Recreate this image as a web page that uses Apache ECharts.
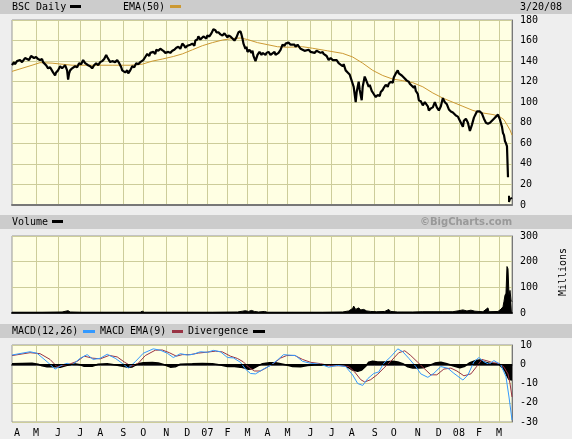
<!DOCTYPE html>
<html><head><meta charset="utf-8">
<script src="https://cdn.jsdelivr.net/npm/echarts@6/dist/echarts.min.js"></script>
<style>html,body{margin:0;padding:0;background:#EEEEEE;}#c{width:572px;height:439px;}</style>
</head><body><div id="c"></div><script>
// ---- axis / tick data ----
const N = 500; // trading days shown (27 Mar 2006 .. 20 Mar 2008)
const monthLabels = ['A','M','J','J','A','S','O','N','D','07','F','M','A','M','J','J','A','S','O','N','D','08','F','M'];
const monthIdx = [5,24,46,68,88,111,131,154,175,195,215,235,255,275,298,319,339,362,381,405,426,446,466,486];
const priceTicks = [0,20,40,60,80,100,120,140,160,180];
const volumeTicks = [0,100,200,300];
const macdTicks = [-30,-20,-10,0,10];

// ---- series data: [trading-day index, value] ----
const price = [[0,136],[2,139],[3,137],[5,140],[8,141],[10,139],[13,143],[15,142],[17,141],[19,145],[20,146],[22,143],[24,144],[26,142],[28,141],[30,142],[31,139],[34,136],[36,133],[38,134],[41,129],[43,126],[44,129],[46,131],[48,135],[50,133],[53,136],[55,131],[56,122],[57,128],[58,131],[60,133],[63,135],[65,134],[67,138],[69,137],[71,141],[73,138],[74,139],[76,136],[78,135],[80,133],[82,136],[84,138],[86,136],[88,139],[90,140],[92,142],[94,146],[95,144],[96,143],[98,139],[100,140],[103,139],[105,141],[107,138],[109,134],[110,131],[113,129],[115,131],[116,128],[118,131],[120,135],[122,134],[124,138],[126,137],[128,139],[131,141],[133,144],[135,147],[137,145],[138,148],[141,149],[143,147],[144,151],[146,150],[148,152],[151,150],[153,148],[154,147],[156,149],[158,148],[160,150],[162,151],[164,153],[166,154],[168,152],[170,157],[172,155],[173,153],[175,155],[176,154],[178,156],[180,157],[182,155],[183,160],[185,161],[186,164],[188,161],[189,162],[191,164],[192,163],[194,162],[195,165],[197,164],[199,167],[201,171],[203,170],[204,168],[206,168],[208,166],[210,165],[212,167],[213,166],[215,163],[216,165],[218,164],[220,162],[222,160],[224,163],[226,168],[228,169],[229,166],[230,162],[231,157],[233,152],[234,154],[235,149],[237,151],[239,148],[240,150],[241,145],[243,140],[245,146],[247,149],[249,146],[250,148],[253,146],[254,148],[256,149],[258,146],[259,147],[262,149],[263,146],[264,147],[266,148],[268,151],[270,156],[272,155],[273,157],[276,158],[278,156],[279,157],[282,156],[283,154],[285,156],[288,152],[290,151],[292,150],[293,149],[296,151],[298,149],[299,150],[302,148],[304,150],[305,149],[308,148],[310,149],[311,147],[314,145],[316,141],[318,143],[320,141],[321,142],[324,141],[326,138],[327,139],[330,135],[331,137],[333,131],[335,129],[337,127],[338,124],[340,118],[341,115],[343,100],[344,110],[346,120],[347,112],[349,102],[350,115],[352,125],[354,120],[356,115],[357,117],[359,111],[361,108],[363,105],[365,107],[367,106],[368,110],[370,112],[371,114],[373,117],[375,115],[376,118],[378,120],[380,119],[381,124],[383,128],[385,131],[386,128],[387,129],[389,126],[391,124],[392,125],[394,121],[396,120],[397,118],[398,117],[401,114],[402,116],[403,111],[405,108],[406,102],[408,101],[410,97],[412,100],[413,101],[415,96],[416,92],[418,94],[420,95],[422,100],[424,95],[426,92],[428,96],[430,104],[432,100],[434,98],[436,93],[438,91],[440,90],[441,89],[443,87],[445,86],[446,84],[448,80],[450,76],[451,82],[453,84],[455,80],[457,72],[459,78],[461,85],[463,89],[464,91],[465,92],[467,91],[469,89],[471,84],[473,80],[475,79],[477,80],[479,82],[481,84],[483,86],[485,88],[487,83],[488,82],[489,76],[490,70],[491,68],[492,62],[493,60],[494,57],[495,57],[495,27]];
const priceTail = [[496,9],[496,3],[497,6],[498,5],[499,7]];
const ema50 = [[0,130],[10,133],[20,136],[28,138.5],[40,138],[60,136],[80,136],[100,136],[118,136],[130,137],[140,140],[150,142],[161,144.5],[170,147],[180,151],[190,155],[200,158],[210,160.5],[220,162],[228,162.5],[235,161],[245,158],[255,156],[265,154],[275,153.5],[290,154],[300,152.5],[315,150],[330,147.5],[340,144],[350,138],[360,131],[370,126],[380,122.5],[390,121],[400,119],[410,115],[420,109],[430,104],[440,100],[450,96],[460,92],[470,89.5],[480,88],[486,86.5],[491,83],[494,78],[497,73],[499,68]];
const volume = [[0,3],[30,3],[50,4],[56,9],[58,4],[70,3],[100,3],[128,3],[130,7],[132,3],[160,3],[200,3],[225,4],[230,7],[233,9],[236,6],[239,10],[242,6],[246,4],[252,6],[255,3],[290,3],[310,3],[330,4],[336,8],[340,18],[341,27],[343,14],[346,20],[348,12],[351,14],[354,8],[358,6],[364,5],[372,6],[376,14],[378,6],[385,4],[400,4],[410,5],[430,5],[440,5],[446,9],[450,12],[454,8],[458,11],[462,7],[470,5],[475,20],[476,5],[485,6],[488,15],[490,24],[491,45],[492,69],[493,77],[494,181],[495,172],[496,69],[497,88],[498,50],[499,44]];
const macd = [[0,4.8],[18,6.5],[25,5.7],[35,1.3],[43,-2.5],[50,-0.4],[55,0.5],[60,-0.4],[68,3.1],[75,5],[81,2.5],[88,3.1],[95,5.2],[103,3.1],[110,0.5],[116,-2],[123,1.3],[131,5.7],[141,8],[148,7.3],[155,5.7],[161,3.5],[168,5.5],[175,4.8],[181,5.2],[188,6.5],[195,6.2],[201,7.2],[208,6.5],[215,3.5],[221,3.3],[228,1],[233,-2.5],[238,-4.8],[243,-5],[251,-2.5],[258,-0.6],[265,2.2],[271,5],[275,4.8],[283,4.5],[290,1.5],[298,0.5],[308,0],[316,-1.5],[325,-0.6],[333,-1.2],[340,-5.6],[345,-10],[350,-11],[355,-7.5],[361,-4.8],[366,-4],[371,0.5],[378,3.9],[385,8],[390,6.5],[396,3.1],[403,-1.2],[408,-5],[415,-6.8],[421,-4.7],[428,-1.2],[435,-2.1],[441,-4.7],[450,-8.2],[455,-5.6],[461,1.3],[466,3.5],[471,1.3],[476,0],[481,1.9],[488,-0.4],[493,-6.5],[496,-17],[499,-29]];
const macdSignal = [[0,4.5],[18,6],[28,5.5],[38,2.5],[45,-1.3],[52,-0.5],[58,0.2],[65,1.5],[72,4.2],[80,3.2],[88,2.8],[97,4.6],[105,3.8],[112,1.2],[119,-1],[126,0.5],[133,4.5],[143,7.3],[150,7.4],[157,6],[164,4.2],[170,5],[178,5],[186,5.8],[195,6.3],[203,6.8],[210,6.4],[218,4.2],[225,3],[231,1.2],[236,-1.5],[242,-3.5],[248,-3.5],[255,-1.5],[262,0.8],[268,3.2],[274,4.5],[282,4.6],[290,2.5],[298,1],[308,0.3],[318,-0.8],[328,-0.8],[336,-1.2],[342,-4],[348,-8],[352,-9.2],[358,-8],[365,-5.2],[371,-2],[378,1.5],[386,6],[392,7],[398,4.5],[405,1],[411,-2],[418,-5.5],[424,-5.5],[431,-2.5],[438,-2],[444,-3.5],[451,-6],[458,-5],[464,-1],[469,2.5],[474,1.8],[480,0.8],[486,0.5],[491,-1.5],[495,-5],[497,-10],[499,-17]];
const divergence = [[0,0.3],[20,0.5],[26,0],[30,-0.8],[35,-1.3],[42,-1.2],[48,-1.6],[55,-0.5],[62,0.2],[68,-0.3],[72,-1],[80,-1],[86,0],[95,0.3],[105,-0.5],[115,-1.5],[120,-1.4],[126,0.3],[131,0.8],[140,0.9],[146,0.6],[152,-0.3],[158,-1.5],[163,-1.3],[168,0],[180,0.2],[190,0.4],[200,0.3],[208,-0.4],[215,-1.2],[222,-1.2],[228,-1.5],[232,-2],[236,-2.6],[240,-2.4],[245,-1],[250,0.3],[257,0.8],[263,0.8],[268,0.3],[275,-0.5],[280,-1.2],[288,-1.3],[295,-0.6],[305,-0.2],[315,-0.5],[322,-0.3],[332,-0.3],[335,-1.5],[340,-3],[345,-3.6],[349,-3],[353,-1],[356,1],[360,1.6],[365,1.2],[372,1.2],[380,1.5],[385,1.2],[390,0.3],[395,-1.3],[400,-2],[405,-2],[410,-1.8],[416,-0.8],[422,0.6],[428,1],[434,0.3],[440,-0.8],[447,-1.8],[452,-1],[457,0.8],[463,2],[467,2.2],[472,1],[478,0.3],[484,0.2],[486,0],[489,-1.5],[492,-3.5],[494,-6],[496,-7.8],[499,-8.2]];

// ---- styling ----
const FONT = 'DejaVu Sans Mono';
const PLOT_BG = '#FFFFE3';
const GRID_C = '#CDCD9A';
const BAND = '#CCCCCC';
const EMA_C = '#CC9933';
const MACD_C = '#3399FF';
const SIG_C = '#993344';

const cats = Array.from({length: N}, (_, i) => String(i));
const monthSet = new Set(monthIdx);
const labelOf = {};
monthIdx.forEach((m, i) => { labelOf[m] = monthLabels[i]; });

function xAxisFor(gridIndex, showLabels, lineColor) {
  return {
    type: 'category', gridIndex, data: cats, boundaryGap: false,
    axisLine: {show: true, lineStyle: {color: lineColor, width: 2}},
    axisTick: {show: false},
    axisLabel: {
      show: showLabels, interval: (i) => monthSet.has(i),
      formatter: (v, i) => labelOf[Number(v)] || '',
      fontFamily: FONT, fontSize: 10, color: '#000', margin: 6
    },
    splitLine: {show: true, interval: (i) => monthSet.has(i) && i !== 5, lineStyle: {color: GRID_C, width: 1}}
  };
}
function yAxisFor(gridIndex, ticks) {
  return {
    type: 'value', gridIndex, position: 'right',
    min: ticks[0], max: ticks[ticks.length - 1], interval: ticks[1] - ticks[0],
    axisLine: {show: true, lineStyle: {color: '#777', width: 1}},
    axisTick: {show: false},
    axisLabel: {fontFamily: FONT, fontSize: 10, color: '#000', margin: 8},
    splitLine: {show: true, lineStyle: {color: GRID_C, width: 1}}
  };
}
const gridBase = {left: 12, right: 60, show: true, backgroundColor: PLOT_BG, borderColor: '#999', borderWidth: 1};

const chart = echarts.init(document.getElementById('c'), null, {renderer: 'canvas'});
chart.setOption({
  animation: false,
  backgroundColor: '#EEEEEE',
  grid: [
    Object.assign({top: 20, height: 185}, gridBase),
    Object.assign({top: 236, height: 77}, gridBase),
    Object.assign({top: 345, height: 77}, gridBase)
  ],
  xAxis: [xAxisFor(0, false, '#777'), xAxisFor(1, false, '#222'), xAxisFor(2, true, '#555')],
  yAxis: [yAxisFor(0, priceTicks), yAxisFor(1, volumeTicks), yAxisFor(2, macdTicks)],
  series: [
    {type: 'line', xAxisIndex: 0, yAxisIndex: 0, data: ema50, showSymbol: false, lineStyle: {color: EMA_C, width: 1}},
    {type: 'line', xAxisIndex: 0, yAxisIndex: 0, data: price, showSymbol: false, lineStyle: {color: '#000', width: 2.2}},
    {type: 'line', xAxisIndex: 0, yAxisIndex: 0, data: priceTail, showSymbol: false, lineStyle: {color: '#000', width: 2}},
    {type: 'line', xAxisIndex: 1, yAxisIndex: 1, data: volume, showSymbol: false, lineStyle: {color: '#000', width: 1}, areaStyle: {color: '#000', opacity: 1}},
    {type: 'line', xAxisIndex: 2, yAxisIndex: 2, data: divergence, showSymbol: false, lineStyle: {color: '#000', width: 1.5}, areaStyle: {color: '#000', opacity: 1},
      markLine: {silent: true, symbol: 'none', label: {show: false}, lineStyle: {color: '#000', width: 1, type: 'solid'}, data: [{yAxis: 0}]}},
    {type: 'line', xAxisIndex: 2, yAxisIndex: 2, data: macdSignal, showSymbol: false, lineStyle: {color: SIG_C, width: 1}},
    {type: 'line', xAxisIndex: 2, yAxisIndex: 2, data: macd, showSymbol: false, lineStyle: {color: MACD_C, width: 1}}
  ],
  graphic: [
    {type: 'rect', shape: {x: 0, y: 0, width: 572, height: 14}, style: {fill: BAND}, z: -1},
    {type: 'rect', shape: {x: 0, y: 215, width: 572, height: 14}, style: {fill: BAND}, z: -1},
    {type: 'rect', shape: {x: 0, y: 324, width: 572, height: 14}, style: {fill: BAND}, z: -1},
    {type: 'text', x: 12, y: 7, style: {text: 'BSC Daily', font: '10px ' + FONT, fill: '#000', verticalAlign: 'middle'}},
    {type: 'rect', shape: {x: 70, y: 5, width: 11, height: 3}, style: {fill: '#000'}},
    {type: 'text', x: 123, y: 7, style: {text: 'EMA(50)', font: '10px ' + FONT, fill: '#000', verticalAlign: 'middle'}},
    {type: 'rect', shape: {x: 170, y: 5, width: 11, height: 3}, style: {fill: EMA_C}},
    {type: 'text', x: 520, y: 7, style: {text: '3/20/08', font: '10px ' + FONT, fill: '#000', verticalAlign: 'middle'}},
    {type: 'text', x: 12, y: 222, style: {text: 'Volume', font: '10px ' + FONT, fill: '#000', verticalAlign: 'middle'}},
    {type: 'rect', shape: {x: 52, y: 220, width: 11, height: 3}, style: {fill: '#000'}},
    {type: 'text', x: 466, y: 222, style: {text: '\u00A9BigCharts.com', font: 'bold 10px "DejaVu Sans"', fill: '#999', align: 'center', verticalAlign: 'middle'}},
    {type: 'text', x: 12, y: 331, style: {text: 'MACD(12,26)', font: '10px ' + FONT, fill: '#000', verticalAlign: 'middle'}},
    {type: 'rect', shape: {x: 83, y: 330, width: 12, height: 3}, style: {fill: MACD_C}},
    {type: 'text', x: 100, y: 331, style: {text: 'MACD EMA(9)', font: '10px ' + FONT, fill: '#000', verticalAlign: 'middle'}},
    {type: 'rect', shape: {x: 172, y: 330, width: 11, height: 3}, style: {fill: SIG_C}},
    {type: 'text', x: 188, y: 331, style: {text: 'Divergence', font: '10px ' + FONT, fill: '#000', verticalAlign: 'middle'}},
    {type: 'rect', shape: {x: 253, y: 330, width: 12, height: 3}, style: {fill: '#000'}},
    {type: 'text', x: 563, y: 272, rotation: Math.PI / 2, style: {text: 'Millions', font: '10px ' + FONT, fill: '#000', align: 'center', verticalAlign: 'middle'}}
  ]
});
</script></body></html>
